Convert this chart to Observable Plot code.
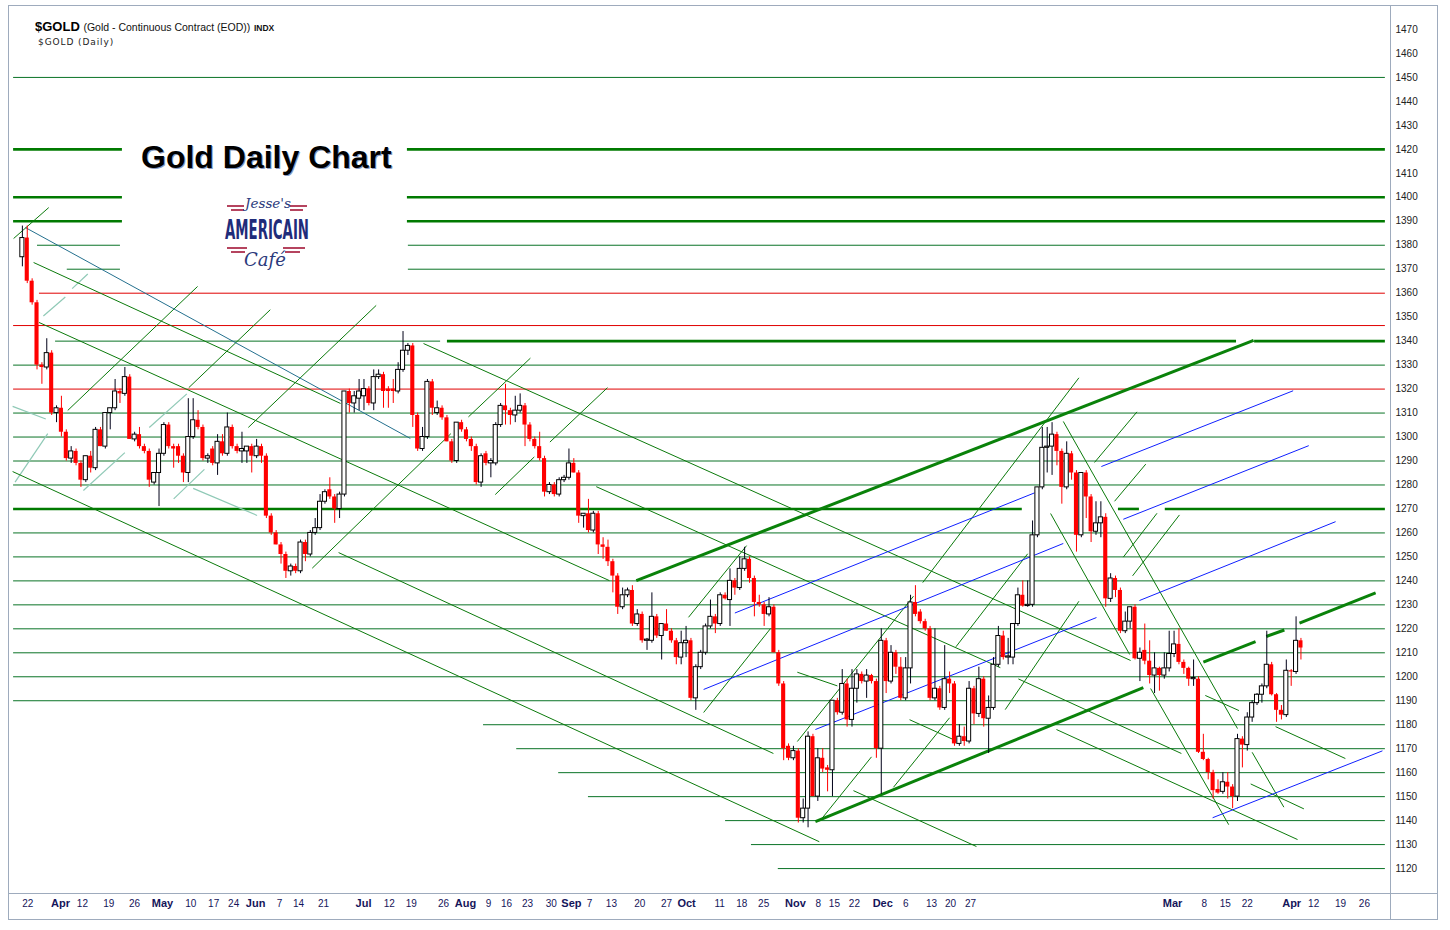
<!DOCTYPE html>
<html><head><meta charset="utf-8">
<script src="https://cdn.jsdelivr.net/npm/d3@7"></script>
<script src="https://cdn.jsdelivr.net/npm/@observablehq/plot@0.6"></script>
<style>
body{margin:0;background:#fff;font-family:"Liberation Sans",Arial,sans-serif}
#wrap{position:relative;width:1450px;height:930px;overflow:hidden;background:#fff}
#chart{position:absolute;left:0;top:0}
#over{position:absolute;left:0;top:0;pointer-events:none}
</style></head><body>
<div id="wrap"><div id="chart"></div>
<svg id="over" width="1450" height="930" viewBox="0 0 1450 930" font-family="Liberation Sans, Arial, sans-serif">
  <rect x="8.5" y="5.5" width="1429" height="914" fill="none" stroke="#9eabbd"/>
  <line x1="1390.5" y1="5" x2="1390.5" y2="920" stroke="#9eabbd"/>
  <line x1="8" y1="893.5" x2="1438" y2="893.5" stroke="#9eabbd"/>
  <text x="35" y="31" font-size="13" font-weight="bold" fill="#000">$GOLD <tspan font-weight="normal" font-size="10.5" fill="#111">(Gold - Continuous Contract (EOD))</tspan> <tspan font-size="8.5" font-weight="bold" fill="#111">INDX</tspan></text>
  <text x="38" y="45" font-size="9" letter-spacing="0.9" fill="#222" font-family="DejaVu Sans, sans-serif">$GOLD (Daily)</text>
  <text x="142" y="169" font-size="32" font-weight="bold" fill="#3a5a9a" opacity="0.6">Gold Daily Chart</text>
  <text x="141" y="168" font-size="32" font-weight="bold" fill="#000">Gold Daily Chart</text>
  <g transform="translate(222,192)">
    <g fill="#b5445f">
      <rect x="5" y="13" width="17" height="2"/><rect x="9" y="17" width="13" height="2"/>
      <rect x="68" y="13" width="17" height="2"/><rect x="68" y="17" width="13" height="2"/>
      <rect x="5" y="55" width="20" height="2"/><rect x="9" y="59" width="14" height="2"/>
      <rect x="61" y="55" width="22" height="2"/><rect x="63" y="59" width="15" height="2"/>
    </g>
    <text x="46" y="16" text-anchor="middle" font-family="DejaVu Serif, serif" font-style="italic" font-size="13.5" fill="#2b3a7c">Jesse's</text>
    <text x="3" y="47" font-family="DejaVu Sans Condensed, DejaVu Sans, sans-serif" font-weight="bold" font-size="27" textLength="84" lengthAdjust="spacingAndGlyphs" fill="#1f2c7a">AMERICAIN</text>
    <text x="43" y="74" text-anchor="middle" font-family="DejaVu Serif, serif" font-style="italic" font-size="18" fill="#2b3a7c">Café</text>
  </g>
</svg>
</div>
<script>
// ---- Daily OHLC of $GOLD (candle index 1..263) ----
const opens = [
1375,1383,1365,1356,1330,1329,1335,1310,1312,1302,
1291,1294,1289,1282,1292,1287,1303,1296,1310,1312,
1319,1318,1325,1299,1301,1296,1294,1281,1285,1293,
1305,1296,1296,1292,1285,1300,1307,1304,1291,1295,
1289,1298,1293,1304,1296,1294,1294,1296,1292,1296,
1292,1267,1260,1255,1251,1244,1246,1244,1256,1251,
1260,1262,1273,1278,1275,1270,1276,1319,1314,1316,
1317,1320,1314,1325,1326,1320,1320,1319,1328,1336,
1338,1309,1295,1300,1323,1310,1312,1308,1298,1290,
1306,1303,1299,1296,1281,1293,1289,1289,1305,1313,
1311,1309,1311,1313,1305,1299,1296,1291,1277,1280,
1276,1282,1283,1289,1285,1267,1268,1261,1268,1255,
1254,1248,1242,1229,1234,1236,1222,1226,1215,1215,
1225,1217,1222,1219,1215,1208,1214,1215,1191,1204,
1210,1221,1225,1222,1234,1232,1240,1237,1245,1249,
1241,1231,1230,1226,1229,1210,1197,1171,1166,1169,
1141,1145,1175,1150,1166,1162,1161,1190,1185,1197,
1182,1195,1201,1198,1200.5,1198,1170,1215,1198,1210,
1204,1191,1203.5,1231,1227,1223,1220,1191,1195,1187,
1199,1197,1172,1175,1173,1195,1184.5,1199,1182.5,1187,
1205,1217,1208,1208,1222,1234,1229.5,1230,1259,1279,
1295.5,1296,1301,1294,1279,1293,1285,1259,1285,1275,
1260.5,1264,1266.5,1232.5,1241,1236,1219,1223,1229,1207.5,
1211,1206.5,1200.5,1203.5,1200.5,1203.5,1209.5,1213.5,1206,1203.5,
1199,1199,1168.5,1165.5,1160,1153,1152,1156,1154,1150,
1174,1171.5,1183,1189,1192.5,1196,1205,1192.5,1186,1184,
1202.5,1202,1215];
const highs = [
1388,1388,1366,1357,1331,1341,1336,1313,1317,1303,
1296,1295,1290,1292,1294,1304,1304,1310,1312,1324,
1320,1329,1326,1302,1304,1297,1295,1285,1295,1306,
1306,1297,1297,1293,1316,1316,1311,1305,1293,1296,
1301,1301,1310,1305,1297,1302,1296,1297,1299,1297,
1293,1268,1261,1256,1252,1247,1247,1257,1257,1261,
1266,1276,1278,1283,1276,1277,1319,1320,1319,1324,
1324,1321,1328,1328,1327,1321,1324,1331,1344,1339,
1339,1310,1304,1324,1324,1315,1313,1309,1299,1306,
1307,1304,1300,1297,1293,1294,1291,1306,1314,1322,
1312,1317,1318,1314,1306,1300,1302,1292,1281,1281,
1283,1284,1295,1291,1286,1268,1274,1269,1269,1258,
1257,1249,1243,1237,1237,1238,1228,1227,1216,1235,
1226,1222,1228,1220,1216,1219,1221,1216,1205,1211,
1222,1232,1226,1235,1235,1245,1241,1250,1254,1250,
1242,1234,1231,1233,1230,1211,1198,1172,1171,1170,
1149,1177,1176,1170,1170,1163,1190,1191,1203,1199,
1203,1203,1202,1203,1201,1199,1220,1216,1213,1211,
1208,1208,1234,1238,1228,1224,1221,1220,1196,1213,
1202,1198,1180,1179,1198,1196,1204,1200,1192,1208,
1221,1219,1216,1222,1237,1240,1240,1265,1279,1304,
1304,1306,1302,1295,1298,1294,1286,1285,1286,1276,
1273,1273,1268,1243,1242,1237,1227,1229,1230,1212,
1222,1215,1210,1204,1210,1219,1219,1220,1207,1204,
1207,1200,1176,1166,1161,1157,1160,1160,1155,1176,
1175,1185,1190,1193,1197,1219,1206,1193,1188,1207,
1203,1225,1216];
const lows = [
1371,1364,1355,1328,1322,1328,1309,1306,1300,1290,
1289,1288,1279,1281,1285,1286,1296,1295,1303,1311,
1314,1317,1299,1298,1295,1293,1279,1280,1271,1292,
1295,1287,1289,1281,1281,1299,1303,1290,1289,1288,
1284,1292,1292,1295,1293,1289,1289,1285,1291,1289,
1266,1259,1255,1247,1241,1242,1243,1243,1248,1250,
1259,1261,1272,1274,1264,1266,1275,1310,1310,1311,
1311,1313,1311,1324,1312,1312,1314,1318,1327,1334,
1304,1294,1294,1299,1309,1309,1307,1298,1289,1289,
1302,1298,1294,1280,1279,1288,1283,1288,1304,1305,
1305,1306,1310,1296,1298,1295,1290,1275,1276,1275,
1275,1281,1282,1285,1264,1262,1260,1260,1251,1249,
1246,1235,1226,1228,1233,1221,1221,1214,1211,1214,
1216,1207,1219,1214,1205,1205,1208,1190,1186,1203,
1209,1220,1218,1221,1232,1221,1234,1236,1244,1239,
1225,1229,1221,1225,1210,1196,1165,1165,1165,1139,
1139,1137,1150,1148,1160,1152,1150,1184,1184,1179,
1179,1189,1197,1191,1197,1166,1151,1193,1197,1201,
1190,1190,1197,1225,1222,1219,1190,1190,1186,1186,
1193,1171,1171,1171,1172,1180,1183,1179,1168,1186,
1204,1207,1205,1205,1221,1229,1229,1229,1258,1278,
1285,1284,1288,1272,1278,1282,1252,1258,1266,1256,
1259,1258,1229,1231,1233,1218,1218,1220,1207,1198,
1205,1197,1193,1194,1199,1202,1208,1205,1201,1196,
1196,1168,1165,1157,1149,1151,1151,1149,1145,1148,
1162,1169,1181,1188,1189,1195,1192,1181,1182,1183,
1196,1201,1207];
const closes = [
1383,1365,1356,1330,1329,1335,1310,1312,1302,1291,
1294,1289,1282,1292,1287,1303,1296,1310,1312,1319,
1318,1325,1299,1301,1296,1294,1282,1285,1293,1305,
1296,1295,1292,1285,1300,1307,1304,1291,1292,1289,
1298,1293,1304,1296,1294,1295,1296,1292,1296,1292,
1267,1260,1255,1251,1244,1246,1244,1256,1251,1260,
1262,1273,1277,1275,1270,1276,1319,1314,1317,1319,
1320,1314,1325,1326,1319,1319,1319,1328,1336,1338,
1309,1295,1300,1323,1312,1312,1308,1298,1290,1306,
1303,1299,1296,1281,1292,1289,1290,1305,1313,1311,
1309,1311,1313,1305,1299,1296,1291,1277,1280,1276,
1282,1283,1289,1285,1267,1268,1261,1268,1255,1254,
1248,1242,1229,1234,1236,1222,1226,1215,1215.5,1225,
1217,1222,1219,1215,1208,1214,1215,1191,1204,1210,
1221,1225,1222,1234,1232.5,1240,1237,1245,1249,1241,
1231,1230,1226,1229,1210,1197,1170,1166,1169,1141,
1145,1175,1150,1166,1161.5,1161,1190,1185,1197,1182,
1195,1201,1198,1200.5,1198,1170,1215,1198,1210,1204,
1191,1203.5,1231,1226,1223,1220,1191,1195,1187,1199,
1197,1172,1175,1173,1195,1184.5,1199,1182.5,1187,1205,
1217,1208,1208.5,1222,1234,1229.5,1230,1259,1279,1295.5,
1296,1301,1294,1279,1293,1285,1259,1285,1275,1260.5,
1264,1266.5,1232.5,1241,1236,1219,1223,1229,1207.5,1210,
1206.5,1200.5,1203.5,1200.5,1203.5,1209.5,1213.5,1206,1203.5,1199,
1199.5,1168.5,1165.5,1160,1152.5,1151.5,1156,1154,1150,1174,
1171.5,1183,1189,1192.5,1196,1205,1192.5,1186,1184,1202.5,
1202,1215,1212];

// ---- price axis ticks ----
const priceTicks = d3.range(1120, 1471, 10);

// ---- time axis labels (candle index positions) ----
const monthLabels = ["Apr","May","Jun","Jul","Aug","Sep","Oct","Nov","Dec","Mar","Apr"];
const monthIdx    = [8.8,29.7,48.8,70.9,91.8,113.5,137.1,159.4,177.3,236.7,261.1];
const dayLabels = ["22","12","19","26","10","17","24","7","14","21","12","19","26","9","16","23","30","7","13","20","27","11","18","25","8","15","22","6","13","20","27","8","15","22","12","19","26"];
const dayIdx    = [2.1,13.3,18.7,24.0,35.5,40.2,44.3,53.7,57.6,62.7,76.2,80.7,87.3,96.5,100.2,104.5,109.4,117.2,121.7,127.5,133.0,143.9,148.4,152.9,164.1,167.4,171.5,182.0,187.3,191.2,195.3,243.2,247.5,252.0,265.6,271.1,276.0];

// ---- horizontal support/resistance levels: level, from index, to index ----
const thinLevels = [1450,1380,1380,1370,1370,1330,1310,1300,1290,1280,1260,1250,1240,1230,1220,1210,1200,1190,1180,1170,1160,1150,1140,1130,1120,1340];
const thinFrom   = [-0.8,4.1,80.1,10.2,80.1,-0.8,-0.8,-0.8,-0.8,-0.8,-0.8,-0.8,-0.8,-0.8,-0.8,-0.8,-0.8,-0.8,95.5,102.3,110.9,117,145.1,150.4,155.9,7.8];
const thinTo     = [280.3,21.1,280.3,21.1,280.3,280.3,280.3,280.3,280.3,280.3,280.3,280.3,280.3,280.3,280.3,280.3,280.3,280.3,280.3,280.3,280.3,280.3,280.3,280.3,280.3,86.7];
const redLevels = [1360,1346.5,1320];
const redFrom   = [4.5,-0.8,-0.8];
const redTo     = [280.3,280.3,280.3];
const thickLevels = [1420,1420,1400,1400,1390,1390,1340,1340,1270,1270,1270];
const thickFrom   = [-0.8,79.9,-0.8,79.9,-0.8,79.9,88.1,253.5,-0.8,225.6,235.2];
const thickTo     = [21.5,280.3,21.5,280.3,21.5,280.3,249.8,280.3,205.9,229.9,280.3];

// ---- trendlines [index1, price1, index2, price2] ----
const thickTrends = [
 [126.8,1240.1,253.3,1340.3],
 [163.5,1139.6,230.7,1195.5],[243.0,1206.1,253.7,1214.7],[255.9,1216.8,259.6,1219.5],[262.7,1222.4,278.3,1235.0]];
const blueTrends = [
 [222.1,1287.7,261.4,1319.3],[226.6,1265.7,264.6,1296.4],[229.9,1231.8,270.1,1264.7],
 [244.9,1141.2,279.7,1169.1],[147.0,1226.6,208.4,1276.7],[140.6,1194.7,214.3,1255.6],[163.5,1178,221.1,1224.7]];
const tealTrends = [[1.6,1387.4,80.5,1299.4]];
const greenTrends = [
 [3.3,1372.8,66.2,1314],[4.4,1347.8,121.3,1240.1],[-1.0,1285.6,164.3,1131.2],[83.2,1339,228.1,1206.8],
 [118.6,1279.3,201.4,1203.8],[65.8,1251.8,154.9,1168],[171.3,1152.5,196.5,1129.2],[212.9,1178,262.3,1132.1],
 [205.1,1199.1,238.5,1168],[257.8,1179.2,272.1,1165.9],[214.3,1306.5,250,1178.4],[211.7,1268.1,227.9,1209.3],
 [232.2,1195.1,248.2,1138.3],[253,1168.5,259.5,1145.6],[252.7,1155.3,263.6,1144.9],[243.4,1192.2,250.3,1185.9],
 [182.8,1182.1,191.9,1173.7],[159.8,1201.9,168,1196.2],
 [-0.8,1382.8,6.4,1395.7],[10.3,1311.1,36.9,1362.8],[35.1,1320.6,51.8,1353.1],[47.3,1304,73.5,1354.9],
 [60.4,1245.3,88.8,1301.4],[92.4,1308.4,105.1,1332.9],[109.1,1297.9,120.9,1320.6],[97.9,1276,105.9,1291.7],
 [137.5,1224.8,149.4,1254.7],[140.6,1185.1,154.3,1220.1],[159.8,1173,183.6,1233.6],[164.4,1139.8,175,1166.6],
 [179.5,1153.9,191,1182.9],[185.5,1239.3,217.5,1324.7],[192.3,1212.5,207,1251.3],[220.7,1289.4,229.4,1310.5],
 [224.8,1273.2,231.2,1288.7],[226.6,1249.9,233.5,1268.2],[228.5,1242.1,238.1,1267.5],[202.4,1186.3,217.5,1231.5]];
const paleTrends = [
 [5.3,1350.5,9.8,1358.4],[11.2,1361.9,14.4,1368],[-0.5,1281.2,6.2,1301.4],[13.5,1277.7,22,1293.5],
 [27,1304,34.7,1318],[32,1274.2,38.3,1286.5],[36,1278.6,49.1,1267.3],[-1,1312.8,5.8,1307.5]];

// ---- build tables ----
const candles = opens.map((o, k) => ({i: k + 1, o, h: highs[k], l: lows[k], c: closes[k], up: closes[k] >= opens[k]}));
const levelRows = (lv, f, t) => lv.map((y, k) => ({y, x1: f[k], x2: t[k]}));
const trendRows = a => a.map(([x1, y1, x2, y2]) => ({x1, y1, x2, y2}));
const monthRows = monthLabels.map((t, k) => ({t, x: monthIdx[k]}));
const dayRows = dayLabels.map((t, k) => ({t, x: dayIdx[k]}));
const L = {x1: "x1", y1: "y1", x2: "x2", y2: "y2"};

const chart = Plot.plot({
  width: 1450, height: 930,
  marginLeft: 8, marginRight: 60, marginTop: 5, marginBottom: 37,
  x: {domain: [-1.844, 281.35], axis: null},
  y: {domain: [1109.6, 1480], axis: null},
  color: {type: "identity"},
  style: {fontFamily: "Liberation Sans, Arial, sans-serif", background: "white", color: "#222", overflow: "visible"},
  marks: [
    Plot.ruleY(levelRows(thinLevels, thinFrom, thinTo), {y: "y", x1: "x1", x2: "x2", stroke: "#0a7326", strokeWidth: 1}),
    Plot.ruleY(levelRows(redLevels, redFrom, redTo), {y: "y", x1: "x1", x2: "x2", stroke: "#e00000", strokeWidth: 1}),
    Plot.ruleY(levelRows(thickLevels, thickFrom, thickTo), {y: "y", x1: "x1", x2: "x2", stroke: "#007a00", strokeWidth: 2.6}),
    Plot.link(trendRows(paleTrends), {...L, stroke: "#8fc9b6", strokeWidth: 1.2}),
    Plot.link(trendRows(greenTrends), {...L, stroke: "#0b7a0b", strokeWidth: 1}),
    Plot.link(trendRows(tealTrends), {...L, stroke: "#24708e", strokeWidth: 1}),
    Plot.link(trendRows(blueTrends), {...L, stroke: "#1020ff", strokeWidth: 1}),
    Plot.link(trendRows(thickTrends), {...L, stroke: "#0a820a", strokeWidth: 3}),
    Plot.ruleX(candles, {x: "i", y1: "l", y2: "h", stroke: d => d.up ? "#000018" : "#ff0000", strokeWidth: 1}),
    Plot.rect(candles, {x1: d => d.i - 0.42, x2: d => d.i + 0.42, y1: "o", y2: "c",
      fill: d => d.up ? "#ffffff" : "#ff0000", stroke: d => d.up ? "#000000" : "none", strokeWidth: 1}),
    Plot.axisY(priceTicks, {anchor: "right", tickSize: 0, tickPadding: 5, fontSize: 10, tickFormat: d => String(d), fill: "#222"}),
    Plot.text(monthRows, {x: "x", text: "t", frameAnchor: "bottom", dy: 13, fontSize: 11, fontWeight: "bold", fill: "#15155a"}),
    Plot.text(dayRows, {x: "x", text: "t", frameAnchor: "bottom", dy: 13, fontSize: 10, fill: "#15155a"})
  ]
});
document.getElementById("chart").appendChild(chart);
</script>
</body></html>
